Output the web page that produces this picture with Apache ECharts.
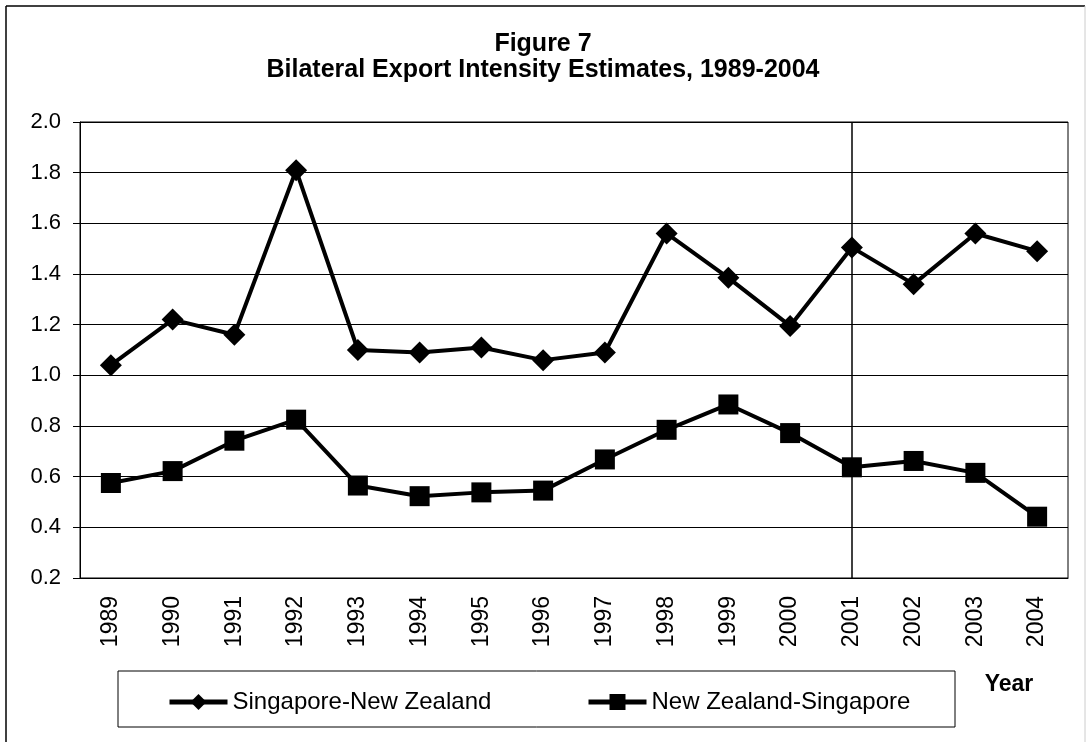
<!DOCTYPE html>
<html>
<head>
<meta charset="utf-8">
<title>Figure 7</title>
<script src="https://cdn.jsdelivr.net/npm/echarts@6/dist/echarts.min.js"></script>
<style>
  html, body { margin: 0; padding: 0; background: #fff; }
  #chart { width: 1086px; height: 742px; }
</style>
</head>
<body>
<div id="chart"></div>
<script>
// data
const years = ['1989', '1990', '1991', '1992', '1993', '1994', '1995', '1996',
  '1997', '1998', '1999', '2000', '2001', '2002', '2003', '2004']
const sgNz = [1.04, 1.22, 1.16, 1.81, 1.10, 1.09, 1.11, 1.06,
  1.09, 1.56, 1.385, 1.195, 1.505, 1.36, 1.56, 1.49]
const nzSg = [0.575, 0.622, 0.742, 0.825, 0.565, 0.523, 0.538, 0.545,
  0.668, 0.785, 0.885, 0.772, 0.637, 0.662, 0.615, 0.442]
const seriesNames = ['Singapore-New Zealand', 'New Zealand-Singapore']
const markYear = '2001'

const font = 'Liberation Sans, Arial, sans-serif'

const chart = echarts.init(document.getElementById('chart'))

const legendBase = {
  top: 690,
  padding: 0,
  itemWidth: 58,
  itemHeight: 20,
  lineStyle: { width: 5 },
  textStyle: { fontFamily: font, fontSize: 24, color: '#000' }
}

const option = {
  animation: false,
  backgroundColor: '#fff',
  title: {
    text: 'Figure 7\nBilateral Export Intensity Estimates, 1989-2004',
    left: 'center',
    top: 31,
    padding: [0, 0, 0, 14],
    textStyle: {
      fontFamily: font,
      fontSize: 25,
      fontWeight: 'bold',
      color: '#000',
      lineHeight: 26
    }
  },
  legend: [
    Object.assign({ data: [seriesNames[0]], left: 167 }, legendBase),
    Object.assign({ data: [seriesNames[1]], left: 586 }, legendBase)
  ],
  grid: {
    left: 80,
    right: 18,
    top: 122,
    bottom: 164,
    show: true,
    borderColor: '#000',
    borderWidth: 1
  },
  xAxis: {
    type: 'category',
    data: years,
    boundaryGap: true,
    axisLine: { lineStyle: { color: '#000', width: 1 } },
    axisTick: { length: 8, lineStyle: { color: '#000' } },
    axisLabel: {
      rotate: 90,
      margin: 18,
      fontFamily: font,
      fontSize: 23,
      color: '#000'
    },
    splitLine: { show: false }
  },
  yAxis: {
    type: 'value',
    min: 0.2,
    max: 2.0,
    interval: 0.2,
    axisLine: { show: true, lineStyle: { color: '#000', width: 1 } },
    axisTick: { show: true, length: 7, lineStyle: { color: '#000' } },
    axisLabel: {
      margin: 19,
      fontFamily: font,
      fontSize: 22,
      color: '#000',
      formatter: v => v.toFixed(1)
    },
    splitLine: { lineStyle: { color: '#000', width: 1 } }
  },
  series: [
    {
      name: seriesNames[0],
      type: 'line',
      data: sgNz,
      symbol: 'diamond',
      symbolSize: 22,
      color: '#000',
      lineStyle: { width: 4, color: '#000' },
      itemStyle: { color: '#000' },
      markLine: {
        silent: true,
        symbol: ['none', 'none'],
        label: { show: false },
        lineStyle: { color: '#000', width: 1.5, type: 'solid' },
        data: [{ xAxis: markYear }]
      }
    },
    {
      name: seriesNames[1],
      type: 'line',
      data: nzSg,
      symbol: 'rect',
      symbolSize: 20,
      color: '#000',
      lineStyle: { width: 4, color: '#000' },
      itemStyle: { color: '#000' }
    }
  ],
  graphic: [
    // outer frame
    { type: 'line', shape: { x1: 6, y1: 6, x2: 1085, y2: 6 }, style: { stroke: '#000', lineWidth: 1.5 } },
    { type: 'line', shape: { x1: 6, y1: 6, x2: 6, y2: 742 }, style: { stroke: '#000', lineWidth: 1.5 } },
    { type: 'line', shape: { x1: 1085, y1: 6, x2: 1085, y2: 742 }, style: { stroke: '#ccc', lineWidth: 1 } },
    // legend box
    {
      type: 'rect',
      shape: { x: 118, y: 671, width: 837, height: 56 },
      style: { fill: 'none', stroke: '#000', lineWidth: 1 },
      z: -1
    },
    // axis title
    {
      type: 'text',
      x: 1009,
      y: 685,
      style: {
        text: 'Year',
        fontFamily: font,
        fontSize: 23,
        fontWeight: 'bold',
        fill: '#000',
        align: 'center',
        verticalAlign: 'middle'
      }
    }
  ]
}

chart.setOption(option)
</script>
</body>
</html>
